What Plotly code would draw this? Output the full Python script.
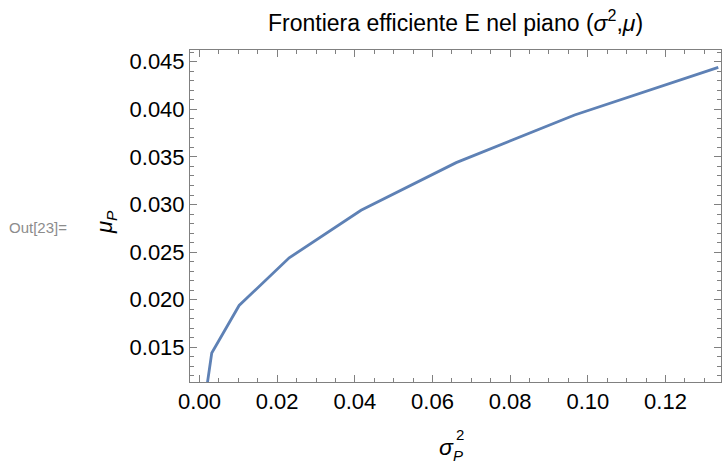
import plotly.graph_objects as go

sigma2 = [0.00137, 0.00315, 0.0102, 0.0231, 0.0416, 0.0661, 0.0966, 0.1336]
mu = [0.0094, 0.0144, 0.0194, 0.0244, 0.0294, 0.0344, 0.0394, 0.0444]

FONT = "Arial, Liberation Sans, sans-serif"
FRAME = "#808080"

fig = go.Figure()
fig.add_trace(go.Scatter(x=sigma2, y=mu, mode="lines",
                         line=dict(color="#5E81B5", width=2.8),
                         cliponaxis=True, showlegend=False))

axis_common = dict(showgrid=False, zeroline=False, showline=True, linecolor=FRAME,
                   linewidth=1, mirror="ticks", ticks="inside", ticklen=7,
                   tickcolor=FRAME, tickwidth=1,
                   tickfont=dict(family=FONT, size=22, color="black"))

fig.update_xaxes(range=[-0.00245, 0.1343], tick0=0, dtick=0.02, tickformat=".2f",
                 minor=dict(dtick=0.005, ticks="inside", ticklen=4, tickcolor=FRAME),
                 **axis_common)
fig.update_yaxes(range=[0.01136, 0.04623], tick0=0, dtick=0.005, tickformat=".3f",
                 minor=dict(dtick=0.001, ticks="inside", ticklen=4, tickcolor=FRAME),
                 **axis_common)

fig.update_layout(
    width=724, height=469,
    margin=dict(l=190, r=3, t=50, b=87),
    paper_bgcolor="white", plot_bgcolor="white",
    title=dict(text="Frontiera efficiente E nel piano (<i>σ</i><sup>2</sup>,<i>μ</i>)",
               x=0.5, xref="paper", xanchor="center", y=0.952, yanchor="middle",
               font=dict(family=FONT, size=23, color="black")),
    annotations=[
        dict(text="<i>μ</i><sub><i>P</i></sub>", xref="paper", yref="paper",
             x=-0.158, y=0.482, xanchor="center", yanchor="middle",
             textangle=-90, showarrow=False,
             font=dict(family=FONT, size=22, color="black")),
        dict(text="<i>σ</i>", xref="paper", yref="paper",
             x=0.5, y=-0.196, showarrow=False, xanchor="right", yanchor="middle",
             xshift=0, font=dict(family=FONT, size=23, color="black")),
        dict(text="2", xref="paper", yref="paper",
             x=0.5, y=-0.196, showarrow=False, xanchor="left", yanchor="middle",
             xshift=-2, yshift=13, font=dict(family=FONT, size=15, color="black")),
        dict(text="<i>P</i>", xref="paper", yref="paper",
             x=0.5, y=-0.196, showarrow=False, xanchor="left", yanchor="middle",
             xshift=-5, yshift=-8, font=dict(family=FONT, size=15, color="black")),
        dict(text="Out[23]=", xref="paper", yref="paper", x=-0.3446, y=0.465,
             xanchor="left", yanchor="middle", showarrow=False,
             font=dict(family=FONT, size=15, color="#8c8c8c")),
    ],
)

fig.write_html("out.html")
